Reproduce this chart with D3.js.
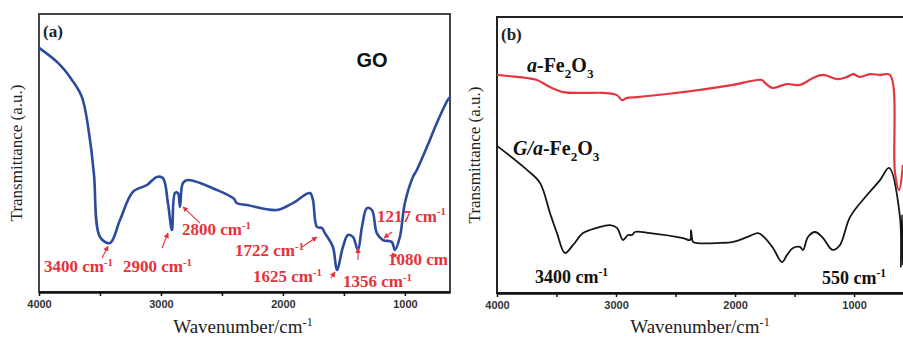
<!DOCTYPE html>
<html>
<head>
<meta charset="utf-8">
<script src="https://cdn.jsdelivr.net/npm/d3@7"></script>
<style>
  html, body { margin: 0; padding: 0; background: #fff; }
  svg { display: block; }
</style>
</head>
<body>
<main></main>
<script>
// Constants
const WIDTH = 903;
const HEIGHT = 339;
const SERIF = "'Liberation Serif', 'Times New Roman', serif";
const SANS = "'Liberation Sans', Arial, sans-serif";
const RED = '#e5333b';

// Panel (a): GO spectrum
const goWavenumber = [4000, 3844, 3730, 3648, 3582, 3549, 3500, 3418, 3336, 3230, 3115, 3033, 2984, 2943, 2910, 2885, 2861, 2844, 2820, 2779, 2541, 2400, 2380, 2295, 2049, 1918, 1779, 1754, 1721, 1680, 1656, 1590, 1557, 1508, 1467, 1426, 1385, 1352, 1311, 1270, 1230, 1180, 1107, 1082, 1041, 1000, 934, 902, 795, 738, 648, 630];
const goTransmittance = [87.8, 82.4, 76.3, 70.1, 54.7, 42.1, 19.8, 17.6, 25.9, 36.0, 38.5, 41.4, 41.0, 32.0, 22.3, 35.6, 35.6, 30.6, 39.2, 40.3, 36.7, 33.5, 32.0, 31.3, 29.5, 32.0, 35.6, 33.1, 23.4, 23.0, 21.2, 16.2, 7.9, 16.2, 20.5, 19.8, 15.1, 23.4, 30.2, 29.5, 21.2, 18.7, 18.0, 15.1, 19.8, 32.0, 41.4, 43.9, 54.7, 60.8, 69.1, 70.1];

// Panel (b): α-Fe2O3 and G/α-Fe2O3 spectra
const feWavenumber = [4000, 3832, 3748, 3664, 3555, 3445, 3277, 3109, 2992, 2950, 2908, 2824, 2572, 2294, 2017, 1774, 1748, 1689, 1647, 1563, 1454, 1345, 1261, 1143, 1059, 1009, 950, 866, 782, 698, 656, 622, 589];
const feTransmittance = [79.0, 78.3, 77.9, 77.2, 74.6, 72.8, 72.5, 72.5, 71.7, 69.9, 70.7, 71.0, 72.1, 73.6, 75.4, 77.2, 76.1, 74.3, 74.6, 75.7, 75.4, 77.9, 79.0, 77.5, 78.3, 79.3, 78.3, 79.3, 79.0, 79.0, 43.5, 37.3, 46.4];
const gfeWavenumber = [4000, 3748, 3639, 3555, 3496, 3429, 3361, 3277, 3160, 3051, 2992, 2941, 2899, 2866, 2841, 2714, 2437, 2378, 2370, 2353, 2320, 2152, 2017, 1874, 1807, 1748, 1681, 1605, 1563, 1513, 1454, 1429, 1387, 1328, 1269, 1202, 1177, 1118, 1034, 891, 782, 706, 614, 606, 597, 589];
const gfeTransmittance = [53.3, 44.6, 39.9, 29.0, 21.7, 14.5, 17.4, 21.7, 23.6, 24.6, 23.6, 19.2, 21.0, 21.0, 22.1, 21.7, 19.9, 19.2, 22.8, 18.5, 18.1, 18.1, 18.5, 20.7, 21.7, 19.9, 16.3, 11.2, 13.8, 16.3, 16.7, 15.6, 20.3, 22.1, 20.3, 16.3, 15.6, 17.4, 27.5, 35.5, 40.9, 45.3, 27.5, 9.4, 28.3, 10.1];

// Axis ticks
const majorTicks = [4000, 3000, 2000, 1000];
const minorTicks = [3500, 2500, 1500];

// Peak labels, anchored in data units (wavenumber, transmittance)
const goPeakLabels = ['3400 cm^{-1}', '2900 cm^{-1}', '2800 cm^{-1}', '1722 cm^{-1}', '1625 cm^{-1}', '1356 cm^{-1}', '1217 cm^{-1}', '1080 cm'];
const goPeakLabelAt = [[3959, 7.2], [3311, 7.2], [2828, 20.5], [2393, 12.9], [2245, 3.6], [1507, 1.8], [1229, 25.2], [1138, 9.6]];
const goPeakArrows = [
  [[3483, 12.2], [3434, 16.5]],
  [[2991, 15.8], [2942, 21.2]],
  [[2680, 24.8], [2819, 30.6]],
  [[1844, 16.2], [1721, 19.8]],
  [[1606, 5.0], [1573, 7.2]],
  [[1384, 11.5], [1384, 15.8]],
  [[1106, 21.6], [1171, 19.4]],
  [[1056, 11.8], [1106, 14.0]],
];
const feLabels = ['a-Fe_{2}O_{3}', 'G/a-Fe_{2}O_{3}', '3400 cm^{-1}', '550 cm^{-1}'];
const feLabelAt = [[3748, 80.1], [3866, 50.0], [3681, 3.6], [1269, 3.3]];

// Draw text with ^{sup} and _{sub} parts; a leading "a" / "G/a" is italic
function richText(sel, str, size, italicPrefix) {
  const parts = str.split(/(\^\{[^}]*\}|_\{[^}]*\})/).filter((p) => p !== '');
  let shift = 0;
  parts.forEach((p, i) => {
    let txt = p;
    let target = 0;
    let fs = size;
    if (p.startsWith('^{')) { txt = p.slice(2, -1); target = -0.38 * size; fs = size * 0.64; }
    else if (p.startsWith('_{')) { txt = p.slice(2, -1); target = 0.28 * size; fs = size * 0.66; }
    if (italicPrefix && i === 0) {
      const m = txt.match(/^(G\/a|a)(.*)$/);
      if (m) {
        sel.append('tspan').attr('font-style', 'italic').text(m[1]);
        txt = m[2];
      }
    }
    sel.append('tspan')
      .attr('dy', target - shift)
      .attr('font-size', fs)
      .text(txt);
    shift = target;
  });
}

function drawPanel(svg, cfg) {
  const x = d3.scaleLinear(cfg.domain, [cfg.left, cfg.right]);
  const y = d3.scaleLinear([0, 100], [cfg.bottom, cfg.top]);
  const g = svg.append('g');

  // Frame
  g.append('rect')
    .attr('x', cfg.left)
    .attr('y', cfg.top)
    .attr('width', cfg.right - cfg.left)
    .attr('height', cfg.bottom - cfg.top)
    .attr('fill', 'none')
    .attr('stroke', cfg.frame)
    .attr('stroke-width', 2);

  // Bottom axis
  const axis = g.append('g')
    .attr('transform', `translate(0, ${cfg.bottom})`)
    .call(d3.axisBottom(x)
      .tickValues(majorTicks.concat(minorTicks))
      .tickSize(4)
      .tickSizeOuter(0)
      .tickPadding(4)
      .tickFormat((d) => (majorTicks.includes(d) ? d3.format('d')(d) : '')));
  axis.select('.domain').attr('stroke', '#111').attr('stroke-width', 2.5);
  axis.selectAll('.tick line').attr('stroke', '#111').attr('stroke-width', 1.5);
  axis.selectAll('.tick text')
    .attr('fill', '#333')
    .attr('font-family', SANS)
    .attr('font-weight', 'bold')
    .attr('font-size', 11);

  // Axis titles
  const xt = g.append('text')
    .attr('x', cfg.titleX)
    .attr('y', 333)
    .attr('text-anchor', 'middle')
    .attr('font-family', SERIF)
    .attr('font-size', 19)
    .attr('fill', '#222');
  richText(xt, 'Wavenumber/cm^{-1}', 19, false);

  g.append('text')
    .attr('transform', `translate(${cfg.left - 17}, ${(cfg.top + cfg.bottom) / 2}) rotate(-90)`)
    .attr('text-anchor', 'middle')
    .attr('font-family', SERIF)
    .attr('font-size', 17)
    .attr('fill', '#222')
    .text('Transmittance (a.u.)');

  // Panel letter
  g.append('text')
    .attr('x', cfg.left + 4)
    .attr('y', cfg.top + 23)
    .attr('font-family', SERIF)
    .attr('font-weight', 'bold')
    .attr('font-size', 17)
    .attr('fill', '#222')
    .text(cfg.letter);

  const line = d3.line()
    .x((d) => x(d[0]))
    .y((d) => y(d[1]))
    .curve(d3.curveCatmullRom.alpha(0.5));

  cfg.series.forEach((s) => {
    g.append('path')
      .datum(d3.zip(s.wn, s.t))
      .attr('d', line)
      .attr('fill', 'none')
      .attr('stroke', s.color)
      .attr('stroke-width', s.width)
      .attr('stroke-linejoin', 'round');
  });

  return { g, x, y };
}

function init() {
  const svg = d3.select('main')
    .append('svg')
    .attr('width', WIDTH)
    .attr('height', HEIGHT);

  svg.append('defs')
    .append('marker')
    .attr('id', 'arrow-red')
    .attr('viewBox', '0 0 10 10')
    .attr('refX', 9)
    .attr('refY', 5)
    .attr('markerWidth', 5)
    .attr('markerHeight', 5)
    .attr('orient', 'auto')
    .append('path')
    .attr('d', 'M0,0 L10,5 L0,10 z')
    .attr('fill', RED);

  // Panel (a)
  const a = drawPanel(svg, {
    left: 39, right: 450, top: 14, bottom: 292,
    domain: [4000, 630], letter: '(a)', frame: '#444', titleX: 243,
    series: [{ wn: goWavenumber, t: goTransmittance, color: '#2c4a9e', width: 2.6 }],
  });

  a.g.append('text')
    .attr('x', a.x(1270))
    .attr('y', a.y(81))
    .attr('text-anchor', 'middle')
    .attr('font-family', SANS)
    .attr('font-weight', 'bold')
    .attr('font-size', 20)
    .attr('fill', '#111')
    .text('GO');

  goPeakArrows.forEach(([from, to]) => {
    a.g.append('line')
      .attr('x1', a.x(from[0])).attr('y1', a.y(from[1]))
      .attr('x2', a.x(to[0])).attr('y2', a.y(to[1]))
      .attr('stroke', RED)
      .attr('stroke-width', 1.1)
      .attr('marker-end', 'url(#arrow-red)');
  });

  goPeakLabels.forEach((label, i) => {
    const t = a.g.append('text')
      .attr('x', a.x(goPeakLabelAt[i][0]))
      .attr('y', a.y(goPeakLabelAt[i][1]))
      .attr('font-family', SERIF)
      .attr('font-weight', 'bold')
      .attr('font-size', 17)
      .attr('fill', RED);
    richText(t, label, 17, false);
  });

  // Panel (b)
  const b = drawPanel(svg, {
    left: 497, right: 910, top: 17, bottom: 293,
    domain: [4000, 530], letter: '(b)', frame: '#222', titleX: 700,
    series: [
      { wn: feWavenumber, t: feTransmittance, color: '#e5363d', width: 2.2 },
      { wn: gfeWavenumber, t: gfeTransmittance, color: '#151515', width: 1.8 },
    ],
  });

  feLabels.forEach((label, i) => {
    const size = i < 2 ? 20 : 18;
    const t = b.g.append('text')
      .attr('x', b.x(feLabelAt[i][0]))
      .attr('y', b.y(feLabelAt[i][1]))
      .attr('font-family', SERIF)
      .attr('font-weight', 'bold')
      .attr('font-size', size)
      .attr('fill', '#111');
    richText(t, label, size, i < 2);
  });
}

init();
</script>
</body>
</html>
